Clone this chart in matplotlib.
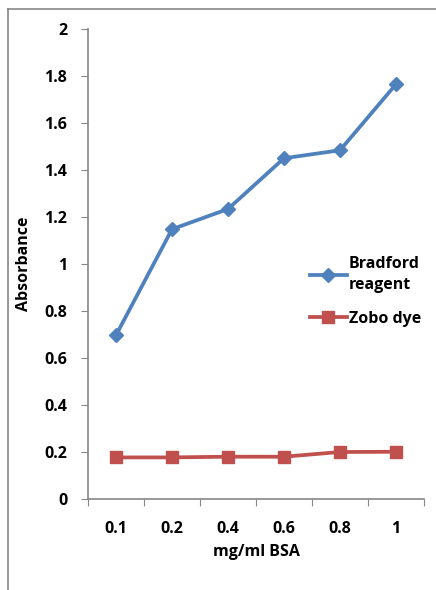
import numpy as np
import matplotlib.pyplot as plt
from matplotlib.lines import Line2D

# values
conc = ['0.1', '0.2', '0.4', '0.6', '0.8', '1']
bradford = [0.697, 1.148, 1.234, 1.45, 1.484, 1.765]
zobo = [0.177, 0.177, 0.18, 0.18, 0.2, 0.201]
yticks = [0, 0.2, 0.4, 0.6, 0.8, 1, 1.2, 1.4, 1.6, 1.8, 2]
ylabels = ['0', '0.2', '0.4', '0.6', '0.8', '1', '1.2', '1.4', '1.6', '1.8', '2']

plt.rcParams['font.family'] = ['Open Sans', 'DejaVu Sans']
fs = 11.5

fig = plt.figure(figsize=(4.36, 5.90), dpi=100)
ax = fig.add_axes([88/436, 1 - 499/590, 336/436, 470/590])

x = np.arange(len(conc)) + 0.5
ax.plot(x, bradford, color='#4F81BD', lw=2.7, marker='D', ms=7.5,
        label='Bradford\nreagent')
ax.plot(x, zobo, color='#C0504D', lw=2.7, marker='s', ms=9,
        label='Zobo dye')

ax.set_xlim(0, len(conc))
ax.set_ylim(0, 2)
ax.set_yticks(yticks)
ax.set_yticklabels(ylabels, fontsize=fs, fontweight='bold')
ax.set_xticks(np.arange(len(conc) + 1))
ax.set_xticklabels([])
ax.set_xticks(x, minor=True)
ax.set_xticklabels(conc, minor=True, fontsize=fs, fontweight='bold')
ax.tick_params(axis='x', which='minor', length=0, pad=16)
ax.tick_params(axis='both', which='major', length=5, color='#868686')
ax.tick_params(axis='y', pad=10)

for s in ['top', 'right']:
    ax.spines[s].set_visible(False)
for s in ['left', 'bottom']:
    ax.spines[s].set_color('#868686')
    ax.spines[s].set_linewidth(1.2)

ax.set_xlabel('mg/ml BSA', fontsize=fs, fontweight='bold', labelpad=5)
ax.set_ylabel('Absorbance', fontsize=fs, fontweight='bold', labelpad=9)

leg = ax.legend(loc='upper left', bbox_to_anchor=(302/436, 1 - 248/590),
                bbox_transform=fig.transFigure, frameon=False,
                prop={'size': fs, 'weight': 'bold'}, handlelength=2.3,
                handletextpad=0.15, labelspacing=1.1, borderpad=0)
for t in leg.get_texts():
    t.set_linespacing(1.45)

# outer chart border (gray)
fig.add_artist(Line2D([8/436, 8/436], [0, 1 - 9/590], color='#868686',
                      lw=1.2, transform=fig.transFigure))
fig.add_artist(Line2D([8/436, 1], [1 - 9/590, 1 - 9/590], color='#868686',
                      lw=1.2, transform=fig.transFigure))

fig.savefig('out.png', dpi=100)
